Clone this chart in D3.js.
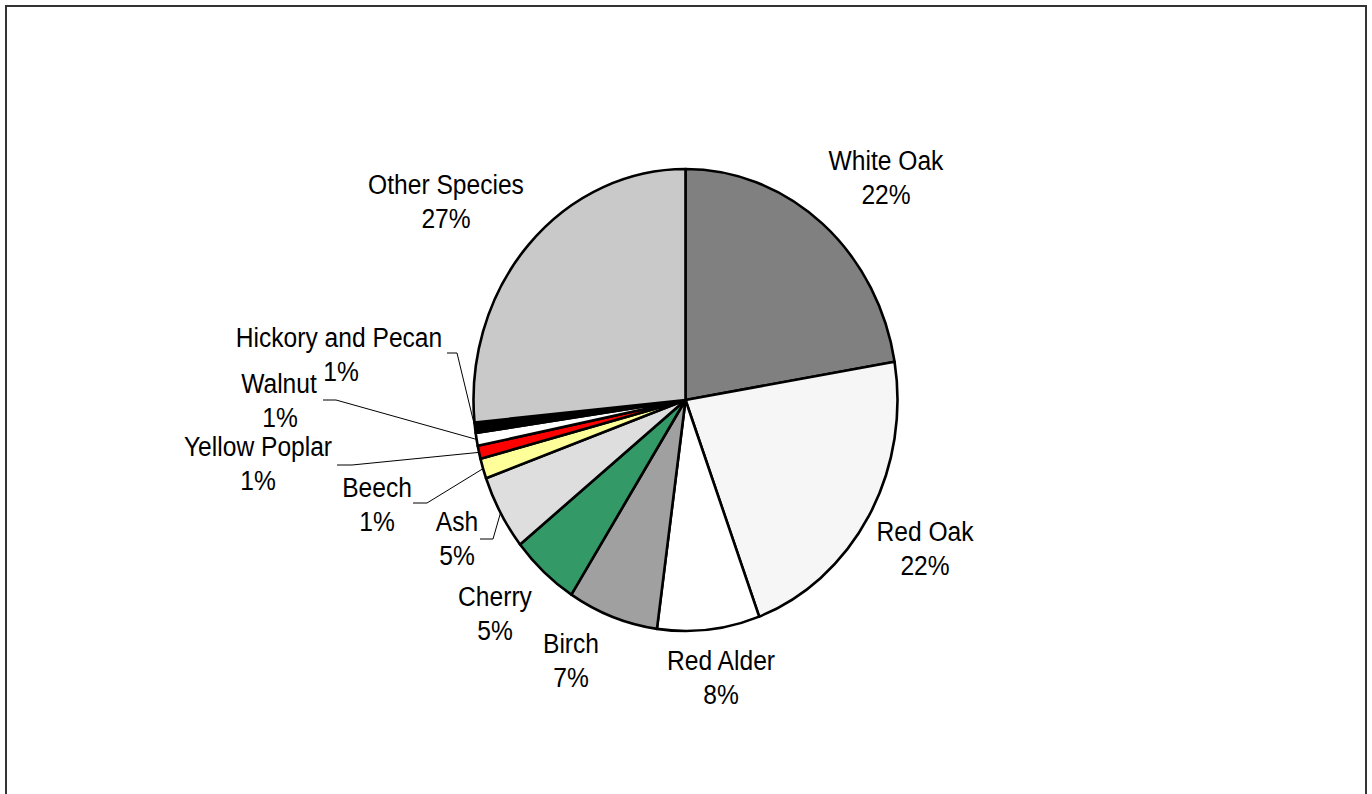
<!DOCTYPE html>
<html>
<head>
<meta charset="utf-8">
<script src="https://cdn.jsdelivr.net/npm/d3@7"></script>
<style>
  html, body { margin: 0; padding: 0; background: #ffffff; }
  svg { display: block; }
  text { font-family: "Liberation Sans", Arial, sans-serif; fill: #000; }
</style>
</head>
<body>
<svg id="chart" width="1372" height="794"></svg>
<script>
// Hardwood lumber by species, share of total (percent)
const species = ["White Oak", "Red Oak", "Red Alder", "Birch", "Cherry", "Ash",
                 "Beech", "Yellow Poplar", "Walnut", "Hickory and Pecan", "Other Species"];
const shares  = [22.35, 22.0, 7.8, 6.9, 5.2, 5.25, 1.4, 0.92, 0.9, 0.73, 26.55];
const fills   = ["#808080", "#f6f6f6", "#ffffff", "#a0a0a0", "#339966", "#dedede",
                 "#ffff99", "#ff0000", "#ffffff", "#000000", "#c9c9c9"];

// Label anchor (centre of the two-line label) and optional leader elbow
const labelLayout = {
  "White Oak":         { x: 886, y: 160 },
  "Red Oak":           { x: 925, y: 531 },
  "Red Alder":         { x: 721, y: 660 },
  "Birch":             { x: 571, y: 643 },
  "Cherry":            { x: 495, y: 596 },
  "Ash":               { x: 457, y: 521, leader: [[480, 539], [493, 539]] },
  "Beech":             { x: 377, y: 487, leader: [[413, 503], [427, 503]] },
  "Yellow Poplar":     { x: 258, y: 446, leader: [[337, 465], [352, 465]] },
  "Walnut":            { x: 279, y: 383, pctX: 280, leader: [[323, 400], [336, 400]] },
  "Hickory and Pecan": { x: 339, y: 337, pctX: 341, leader: [[447, 353], [457, 353]] },
  "Other Species":     { x: 446, y: 184 }
};

const cx = 685.5, cy = 400, rx = 212, ry = 231;
const stretch = ry / rx;      // the whole drawing is slightly taller than wide
const lineGap = 34;

const svg = d3.select("#chart");

// outer frame (bottom edge runs past the viewport)
svg.append("rect")
  .attr("x", 6).attr("y", 6)
  .attr("width", 1360).attr("height", 820)
  .attr("fill", "#ffffff")
  .attr("stroke", "#333333")
  .attr("stroke-width", 2);

const data = species.map((name, i) => ({ name, value: shares[i], fill: fills[i] }));

const pie = d3.pie().value(d => d.value).sort(null).startAngle(0).endAngle(2 * Math.PI);
const arcs = pie(data);
const arc = d3.arc().innerRadius(0).outerRadius(rx);

// pie drawn as a circle then stretched vertically into an ellipse
const g = svg.append("g")
  .attr("transform", `translate(${cx},${cy}) scale(1,${stretch})`);

g.selectAll("path.slice")
  .data(arcs)
  .enter().append("path")
  .attr("class", "slice")
  .attr("d", arc)
  .attr("fill", d => d.data.fill)
  .attr("stroke", "#000")
  .attr("stroke-width", 2.6)
  .attr("stroke-linejoin", "round")
  .style("vector-effect", "non-scaling-stroke");

// point on the elliptical rim at a slice's mid-angle
function rimPoint(d) {
  const a = (d.startAngle + d.endAngle) / 2;
  return [cx + rx * Math.sin(a), cy - ry * Math.cos(a)];
}

// leader lines for the narrow slices
const line = d3.line();
arcs.forEach(d => {
  const lay = labelLayout[d.data.name];
  if (!lay.leader) return;
  const pts = lay.leader.concat([rimPoint(d)]);
  svg.append("path")
    .attr("d", line(pts))
    .attr("fill", "none")
    .attr("stroke", "#000")
    .attr("stroke-width", 1);
});

// two-line labels: name and rounded share (glyphs stretched like the pie)
const fmt = v => Math.round(v) + "%";
const labels = svg.append("g").attr("font-size", 24.6).attr("text-anchor", "middle");
function addLabel(x, y, str) {
  labels.append("text")
    .attr("transform", `translate(${x},${y}) scale(1,${stretch})`)
    .attr("dy", "0.36em")
    .text(str);
}
arcs.forEach(d => {
  const lay = labelLayout[d.data.name];
  addLabel(lay.x, lay.y, d.data.name);
  addLabel(lay.pctX !== undefined ? lay.pctX : lay.x, lay.y + lineGap, fmt(d.data.value));
});
</script>
</body>
</html>
